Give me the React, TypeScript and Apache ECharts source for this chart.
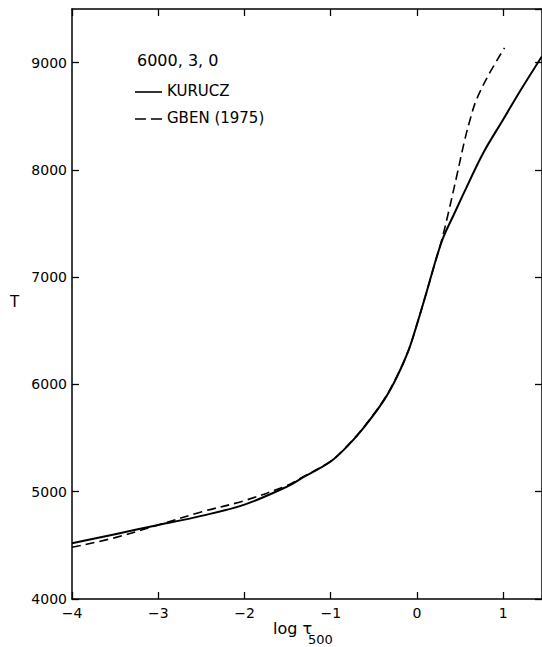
import React, { useEffect, useRef } from "react";
import * as echarts from "echarts";

const kuruczX = [-4, -3.5, -3, -2.5, -2, -1.5, -1.34, -1, -0.8, -0.6, -0.38, -0.23, -0.095, 0, 0.095, 0.23, 0.31, 0.42, 0.55, 0.77, 1.0, 1.2, 1.45];
const kuruczT = [4520, 4604, 4690, 4775, 4880, 5050, 5125, 5282, 5430, 5615, 5856, 6074, 6323, 6560, 6815, 7190, 7380, 7570, 7795, 8160, 8470, 8740, 9060];

const gbenX = [-4, -3.5, -3, -2.5, -2, -1.5, -1.34, -1, -0.8, -0.6, -0.38, -0.23, -0.095, 0, 0.095, 0.23, 0.29, 0.364, 0.46, 0.555, 0.62, 0.69, 0.843, 1.015];
const gbenT = [4482, 4572, 4690, 4812, 4917, 5060, 5130, 5285, 5435, 5620, 5862, 6080, 6325, 6560, 6815, 7190, 7355, 7598, 7939, 8282, 8480, 8655, 8904, 9137];

const xTicks = [-4, -3, -2, -1, 0, 1];
const yTicks = [4000, 5000, 6000, 7000, 8000, 9000];

const legendTitle = "6000, 3, 0";
const legendNames = ["KURUCZ", "GBEN (1975)"];

const FONT = "DejaVu Sans";

export default function App() {
  const ref = useRef<HTMLDivElement>(null);
  useEffect(() => {
    if (!ref.current) return;
    const chart = echarts.init(ref.current, undefined, { renderer: "svg" });
    const axisLine = { show: true, onZero: false, lineStyle: { color: "#000", width: 1.5 } };
    const tick = { show: true, inside: true, length: 7, lineStyle: { color: "#000", width: 1.3 } };
    const xFmt = (v: number) => (xTicks.includes(v) ? (v < 0 ? "\u2212" + Math.abs(v) : String(v)) : "");
    const yFmt = (v: number) => (yTicks.includes(v) ? String(v) : "");
    chart.setOption({
      animation: false,
      backgroundColor: "#fff",
      grid: { left: 72, right: -4, top: 9, bottom: 48, containLabel: false },
      xAxis: [
        {
          type: "value", min: -4, max: 1.45, interval: 1, position: "bottom",
          axisLine, axisTick: tick, splitLine: { show: false },
          axisLabel: { formatter: xFmt, color: "#000", fontFamily: FONT, fontSize: 14, margin: 7, showMaxLabel: false },
        },
        {
          type: "value", min: -4, max: 1.45, interval: 1, position: "top",
          axisLine, axisTick: tick, splitLine: { show: false }, axisLabel: { show: false },
        },
      ],
      yAxis: [
        {
          type: "value", min: 4000, max: 9500, interval: 1000, position: "left",
          axisLine, axisTick: tick, splitLine: { show: false },
          axisLabel: { formatter: yFmt, color: "#000", fontFamily: FONT, fontSize: 14, margin: 5, showMaxLabel: false },
        },
        {
          type: "value", min: 4000, max: 9500, interval: 1000, position: "right",
          axisLine, axisTick: tick, splitLine: { show: false }, axisLabel: { show: false },
        },
      ],
      series: [
        {
          name: legendNames[0], type: "line", smooth: 0.35, symbol: "none",
          data: kuruczX.map((x, i) => [x, kuruczT[i]]),
          lineStyle: { color: "#000", width: 2 },
        },
        {
          name: legendNames[1], type: "line", smooth: 0.35, symbol: "none",
          data: gbenX.map((x, i) => [x, gbenT[i]]),
          lineStyle: { color: "#000", width: 1.6, type: [9, 5] },
        },
      ],
      graphic: [
        { type: "text", left: 137, top: 52, style: { text: legendTitle, fontFamily: FONT, fontSize: 16, fill: "#000" } },
        { type: "line", shape: { x1: 135, y1: 92, x2: 162, y2: 92 }, style: { stroke: "#000", lineWidth: 1.6 } },
        { type: "text", left: 167, top: 83, style: { text: legendNames[0], fontFamily: FONT, fontSize: 15, fill: "#000" } },
        { type: "line", shape: { x1: 135, y1: 119, x2: 162, y2: 119 }, style: { stroke: "#000", lineWidth: 1.6, lineDash: [11, 5] } },
        { type: "text", left: 167, top: 110, style: { text: legendNames[1], fontFamily: FONT, fontSize: 15, fill: "#000" } },
        { type: "text", left: 10, top: 294, style: { text: "T", fontFamily: FONT, fontSize: 15, fill: "#000" } },
        { type: "text", left: 273, top: 620, style: { text: "log \u03c4", fontFamily: FONT, fontSize: 16, fill: "#000" } },
        { type: "text", left: 308, top: 633, style: { text: "500", fontFamily: FONT, fontSize: 13, fill: "#000" } },
      ],
    });
    return () => chart.dispose();
  }, []);
  return <div ref={ref} style={{ position: "fixed", left: 0, top: 0, width: 542, height: 647 }} />;
}
